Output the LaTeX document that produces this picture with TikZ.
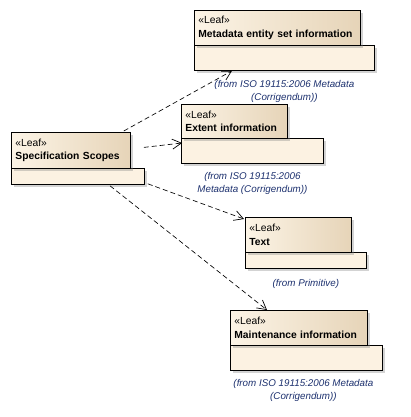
\documentclass[tikz,border=0pt]{standalone}
\usepackage{fontspec}
\setmainfont{Liberation Sans}
\usetikzlibrary{arrows.meta,calc,shadows}
\definecolor{hdrL}{RGB}{252,244,230}
\definecolor{hdrR}{RGB}{230,212,184}
\definecolor{bodyC}{RGB}{252,242,226}
\definecolor{lblC}{RGB}{28,48,110}
\tikzset{
  hdrbox/.style={draw=black, line width=0.8pt, left color=hdrL, right color=hdrR,
    anchor=north west, inner xsep=4pt, inner ysep=2pt, align=left,
    font=\fontsize{10.3}{13.8}\selectfont,
    drop shadow={shadow xshift=2.5pt, shadow yshift=-2.5pt, opacity=0.35, fill=gray}},
  bodybox/.style={draw=black, line width=0.8pt, fill=bodyC, anchor=north west,
    drop shadow={shadow xshift=2.5pt, shadow yshift=-2.5pt, opacity=0.35, fill=gray}},
  fromlbl/.style={anchor=north, align=center, text=lblC,
    font=\fontsize{9.8}{12.8}\selectfont\itshape},
  dep/.style={draw=black, line width=0.65pt, dash pattern=on 5pt off 3pt,
    -{Straight Barb[length=9pt,width=10pt,line width=0.7pt]}}
}
\begin{document}
\begin{tikzpicture}[x=1pt,y=-1pt]
\useasboundingbox (0,0) rectangle (410,417);

% Metadata entity set information
\node[bodybox, minimum width=180, minimum height=25] (m1b) at (194,45) {};
\node[hdrbox, minimum width=166, minimum height=35, text width=158] (m1h) at (194,10) {«Leaf»\\\textbf{Metadata entity set information}};
\node[fromlbl] (m1l) at ($(m1b.south)+(0,6)$) {(from ISO 19115:2006 Metadata\\(Corrigendum))};

% Extent information
\node[bodybox, minimum width=142, minimum height=25] (m2b) at (181,138) {};
\node[hdrbox, minimum width=106, minimum height=34, text width=98] (m2h) at (181,104) {«Leaf»\\\textbf{Extent information}};
\node[fromlbl] (m2l) at ($(m2b.south)+(0,5)$) {(from ISO 19115:2006\\Metadata (Corrigendum))};

% Text
\node[bodybox, minimum width=121, minimum height=16] (m3b) at (245,252) {};
\node[hdrbox, minimum width=106, minimum height=35, text width=98] (m3h) at (245,217) {«Leaf»\\\textbf{Text}};
\node[fromlbl] (m3l) at ($(m3b.south)+(0,7)$) {(from Primitive)};

% Maintenance information
\node[bodybox, minimum width=152, minimum height=25] (m4b) at (230,345) {};
\node[hdrbox, minimum width=137, minimum height=35, text width=129] (m4h) at (230,310) {«Leaf»\\\textbf{Maintenance information}};
\node[fromlbl] (m4l) at ($(m4b.south)+(-3,5)$) {(from ISO 19115:2006 Metadata\\(Corrigendum))};

% Specification Scopes
\node[bodybox, minimum width=133, minimum height=16] (sb) at (11,168) {};
\node[hdrbox, minimum width=119, minimum height=36, text width=111] (sh) at (11,132) {«Leaf»\\\textbf{Specification Scopes}};

% dependencies
\draw[dep] ($(sh.north east)+(-7,-1)$) -- ($(m1b.south west)+(38,0)$);
\draw[dep] ($(sh.east)+(13,-3)$) -- ($(m2b.north west)+(1,5)$);
\draw[dep] ($(sb.south east)+(3,-1)$) -- ($(m3h.north west)+(-1,2)$);
\draw[dep] ($(sb.south west)+(99,1)$) -- ($(m4h.north west)+(37,0)$);
\end{tikzpicture}
\end{document}
